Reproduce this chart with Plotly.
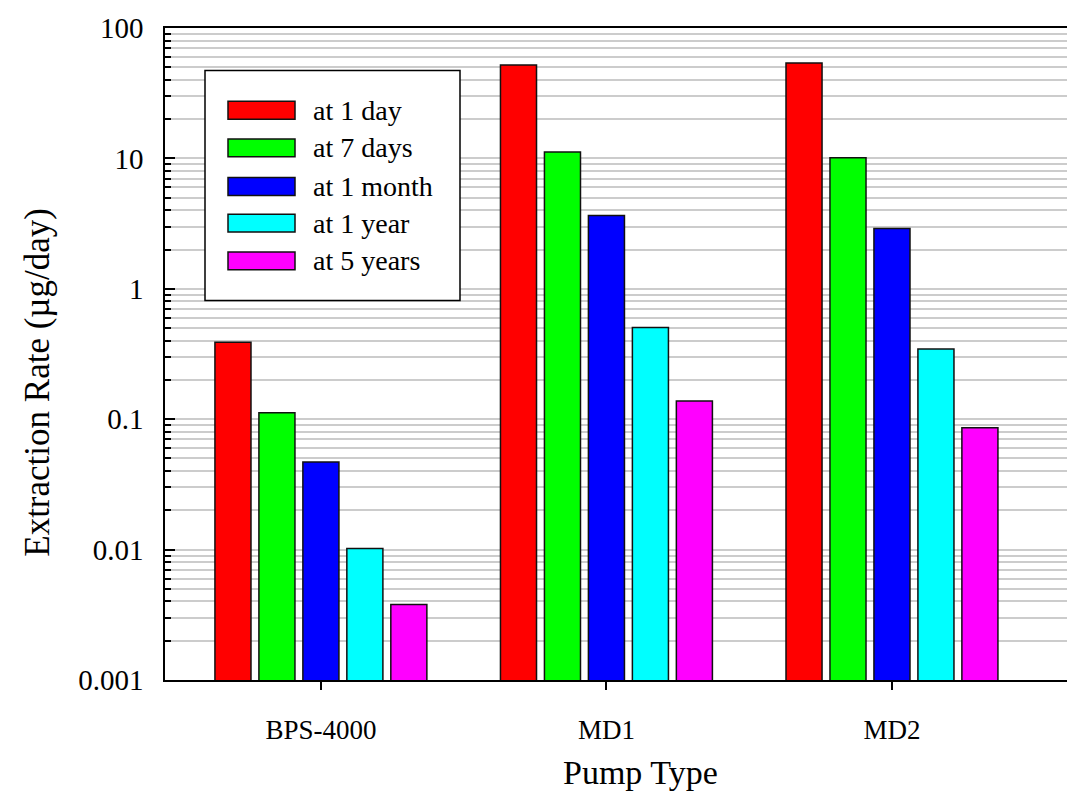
import plotly.graph_objects as go

# Pump types on the category axis
pumps = ["BPS-4000", "MD1", "MD2"]

# Extraction rate (µg/day) at each time point, per pump
at_1_day = [0.39, 52.0, 54.0]
at_7_days = [0.112, 11.2, 10.1]
at_1_month = [0.047, 3.65, 2.9]
at_1_year = [0.0102, 0.505, 0.345]
at_5_years = [0.0038, 0.138, 0.086]

series_names = ["at 1 day", "at 7 days", "at 1 month", "at 1 year", "at 5 years"]
series_values = [at_1_day, at_7_days, at_1_month, at_1_year, at_5_years]
series_colors = ["#ff0000", "#00ff00", "#0000ff", "#00ffff", "#ff00ff"]

y_ticks = [0.001, 0.01, 0.1, 1, 10, 100]
y_tick_labels = ["0.001", "0.01", "0.1", "1", "10", "100"]

FONT = "Liberation Serif"
W, H = 1089, 809
L, R, T, B = 165, 1067, 22, 680

fig = go.Figure()
for name, vals, col in zip(series_names, series_values, series_colors):
    fig.add_trace(go.Bar(
        x=pumps, y=vals, name=name,
        marker=dict(color=col, line=dict(color="#111111", width=1.5)),
        showlegend=False,
    ))


def px_x(p):
    return (p - L) / (R - L)


def px_y(p):
    return (B - p) / (B - T)


# Legend box drawn in paper coordinates
shapes = [dict(type="rect", xref="paper", yref="paper",
               x0=px_x(205), x1=px_x(460), y0=px_y(297), y1=px_y(65),
               line=dict(color="black", width=1.5), fillcolor="white", layer="above")]
annotations = []
row_y = [105, 143, 182, 219, 257]
for name, col, cy in zip(series_names, series_colors, row_y):
    shapes.append(dict(type="rect", xref="paper", yref="paper",
                       x0=px_x(228), x1=px_x(295), y0=px_y(cy + 9), y1=px_y(cy - 9),
                       line=dict(color="#111111", width=1.5), fillcolor=col, layer="above"))
    annotations.append(dict(xref="paper", yref="paper", x=px_x(311), y=px_y(cy),
                            text=name, showarrow=False, xanchor="left", yanchor="middle",
                            font=dict(family=FONT, size=28, color="black")))

# Axis titles
annotations.append(dict(xref="paper", yref="paper", x=px_x(640), y=px_y(773),
                        text="Pump Type", showarrow=False, xanchor="center", yanchor="middle",
                        font=dict(family=FONT, size=34, color="black")))
annotations.append(dict(xref="paper", yref="paper", x=px_x(38), y=px_y(380),
                        text="Extraction Rate (µg/day)", showarrow=False, textangle=-90,
                        xanchor="center", yanchor="middle",
                        font=dict(family=FONT, size=35, color="black")))

fig.update_layout(
    width=W, height=H,
    margin=dict(l=L, r=W - R, t=T, b=H - B, pad=0),
    paper_bgcolor="white", plot_bgcolor="white",
    barmode="group", bargap=0.23, bargroupgap=0.18,
    shapes=shapes, annotations=annotations,
    font=dict(family=FONT, color="black"),
)

fig.update_xaxes(
    range=[-0.546, 2.613],
    showline=True, linecolor="black", linewidth=1.5, mirror=True,
    ticks="outside", ticklen=8, tickcolor="black", tickwidth=1.5,
    tickfont=dict(family=FONT, size=27), ticklabelstandoff=17,
    showgrid=False, zeroline=False,
)

fig.update_yaxes(
    type="log", range=[-3, 2],
    tickvals=y_ticks, ticktext=y_tick_labels,
    showline=True, linecolor="black", linewidth=1.5, mirror=False,
    ticks="inside", ticklen=10, tickcolor="black", tickwidth=1.5,
    tickfont=dict(family=FONT, size=29), ticklabelstandoff=14,
    showgrid=True, gridcolor="#cccccc", gridwidth=1.5,
    minor=dict(dtick="D1", ticks="inside", ticklen=6, tickcolor="black", tickwidth=1.5,
               showgrid=True, gridcolor="#cccccc", gridwidth=1.5),
    zeroline=False,
)

fig.write_html("out.html")
